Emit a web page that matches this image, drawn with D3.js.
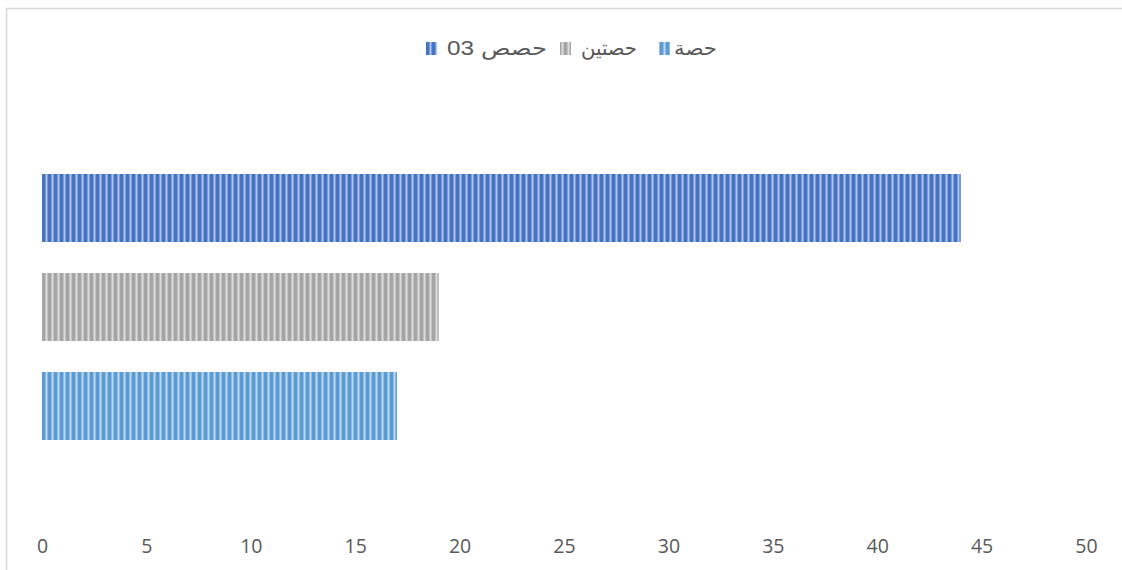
<!DOCTYPE html>
<html>
<head>
<meta charset="utf-8">
<script src="https://cdn.jsdelivr.net/npm/d3@7"></script>
<style>
  html, body { margin: 0; padding: 0; background: #ffffff; }
  svg { display: block; }
</style>
</head>
<body>
<svg id="chart" width="1122" height="570"></svg>
<script>
// Series (one per bar) and their values
const seriesNames = ["حصة", "حصتين", "03 حصص"];
const seriesValues = [17, 19, 44];
const seriesColors = ["#5B9BD5", "#A5A5A5", "#4472C4"];
const seriesLight = ["#BDD7EE", "#DCDCDC", "#AFC3E8"];
const tickValues = [0, 5, 10, 15, 20, 25, 30, 35, 40, 45, 50];

const svg = d3.select("#chart");
const W = 1122, H = 570;

// Chart frame (extends beyond the right and bottom edges)
svg.append("rect")
  .attr("x", 6.5).attr("y", 8.5)
  .attr("width", W + 20).attr("height", H + 20)
  .attr("fill", "#ffffff")
  .attr("stroke", "#D9D9D9").attr("stroke-width", 1.5);

// Vertical-stripe fills, one per series
const defs = svg.append("defs");
seriesColors.forEach((c, i) => {
  const p = defs.append("pattern")
    .attr("id", "stripe" + i)
    .attr("patternUnits", "userSpaceOnUse")
    .attr("x", 42).attr("y", 0)
    .attr("width", 6).attr("height", 10);
  p.append("rect").attr("x", 0).attr("y", 0).attr("width", 6).attr("height", 10).attr("fill", seriesLight[i]);
  p.append("rect").attr("x", 0).attr("y", 0).attr("width", 3).attr("height", 10).attr("fill", c);
  p.append("rect").attr("x", 3).attr("y", 0).attr("width", 1).attr("height", 10).attr("fill", c).attr("opacity", 0.45);
  p.append("rect").attr("x", 5).attr("y", 0).attr("width", 1).attr("height", 10).attr("fill", c).attr("opacity", 0.45);
});

// Scales
const x = d3.scaleLinear().domain([0, 50]).range([42, 1086]);
const y = d3.scaleBand()
  .domain(seriesNames.slice().reverse())
  .range([158.5, 455.5])
  .paddingInner(0.313)
  .paddingOuter(0.1565);

// Bars
svg.append("g").selectAll("rect")
  .data(seriesNames.map((n, i) => ({ name: n, value: seriesValues[i], idx: i })))
  .join("rect")
  .attr("x", x(0))
  .attr("y", d => y(d.name))
  .attr("width", d => x(d.value) - x(0))
  .attr("height", y.bandwidth())
  .attr("fill", d => `url(#stripe${d.idx})`);

// Value axis along the bottom
const axis = d3.axisBottom(x).tickValues(tickValues).tickSize(0).tickPadding(0);
const gx = svg.append("g").attr("transform", "translate(0,553)").call(axis);
gx.select(".domain").remove();
gx.selectAll("text")
  .attr("dy", "0")
  .attr("font-family", "'Open Sans', sans-serif")
  .attr("font-size", 19.5)
  .attr("fill", "#595959");

// Legend (right to left: حصة, حصتين, 03 حصص)
const legendItems = [
  { idx: 0, sx: 659, tx: 674, w: 43 },
  { idx: 1, sx: 560, tx: 581, w: 56 },
  { idx: 2, sx: 426, tx: 447, w: 100 }
];
const lg = svg.append("g");
legendItems.forEach(it => {
  lg.append("rect")
    .attr("x", it.sx).attr("y", 42)
    .attr("width", 11).attr("height", 13)
    .attr("fill", `url(#stripe${it.idx})`);
  lg.append("text")
    .attr("x", it.tx).attr("y", 55)
    .attr("text-anchor", "start")
    .attr("font-family", "'Liberation Sans', 'DejaVu Sans', sans-serif")
    .attr("font-size", 20)
    .attr("fill", "#595959")
    .attr("direction", "ltr")
    .attr("textLength", it.w)
    .attr("lengthAdjust", "spacingAndGlyphs")
    .text(seriesNames[it.idx]);
});
</script>
</body>
</html>
